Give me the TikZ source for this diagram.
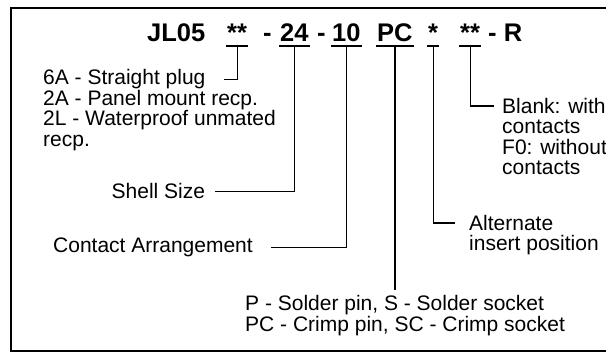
\documentclass[tikz,border=0pt]{standalone}
\usepackage{fontspec}
\setmainfont{Liberation Sans}
\tikzset{
  titre/.style={anchor=base west,inner sep=0pt,font=\bfseries\fontsize{25.5}{28}\selectfont},
  texte/.style={anchor=base west,inner sep=0pt,font=\fontsize{21}{20.5}\selectfont},
  souligne/.style={line width=2.5pt},
  fil/.style={line width=1.2pt},
  cadre/.style={line width=2.5pt}
}
\begin{document}
\begin{tikzpicture}[x=1pt,y=-1pt]
    \useasboundingbox (0,0) rectangle (606,355);
    \draw[cadre] (607,8) -- (11,8) -- (11,351) -- (607,351); % cadre ouvert a droite
    % reference du connecteur
    \foreach \nom/\x/\txt in {jl/147/JL05,k1/227/**,t1/263/-,k2/280/24,t2/317/-,k3/332/10,k4/377/PC,k5/428/*,k6/460/**,fin/488/- R}
    \node[titre] (\nom) at (\x,42) {\txt};
    \foreach \nom in {k1,k2,k3,k4,k5,k6} {
    \draw[souligne] ([xshift=-1pt,yshift=-4pt]\nom.base west) -- ([xshift=1pt,yshift=-4pt]\nom.base east);
    \coordinate (\nom u) at ([yshift=-4pt]\nom.base);
    }
    % legendes
    \node[texte] (plug) at (43,85) {6A - Straight plug};
    \node[texte] (panel) at (43,105.5) {2A - Panel mount recp.};
    \node[texte] (etanche) at (43,126) {2L - Waterproof unmated};
    \node[texte] (recp) at (43,146.5) {recp.};
    \node[texte] (shell) at (111.5,199) {Shell Size};
    \node[texte] (arrang) at (53,252.5) {Contact Arrangement};
    \node[texte] (soudure) at (245,311) {P - Solder pin, S - Solder socket};
    \node[texte] (sertir) at (245,332) {PC - Crimp pin, SC - Crimp socket};
    \node[texte] (alt) at (469,230.5) {Alternate};
    \node[texte] (insert) at (469,251) {insert position};
    \node[texte] (blank) at (502,113.5) {Blank: with};
    \node[texte] (cont1) at (502,134) {contacts};
    \node[texte] (sans) at (502,154.5) {F0: without};
    \node[texte] (cont2) at (502,175) {contacts};
    % renvois
    \draw[fil,shorten >=18pt] (k1u) |- (plug.east);
    \draw[fil,shorten >=10pt] (k2u) |- (shell.east);
    \draw[fil,shorten >=18pt] (k3u) |- (arrang.east);
    \draw[fil,shorten >=6pt] (k4u) -- (k4u |- soudure.north);
    \draw[fil,shorten >=14pt] (k5u) |- (alt.west);
    \draw[fil,shorten >=8pt] (k6u) |- (blank.west);
\end{tikzpicture}
\end{document}
